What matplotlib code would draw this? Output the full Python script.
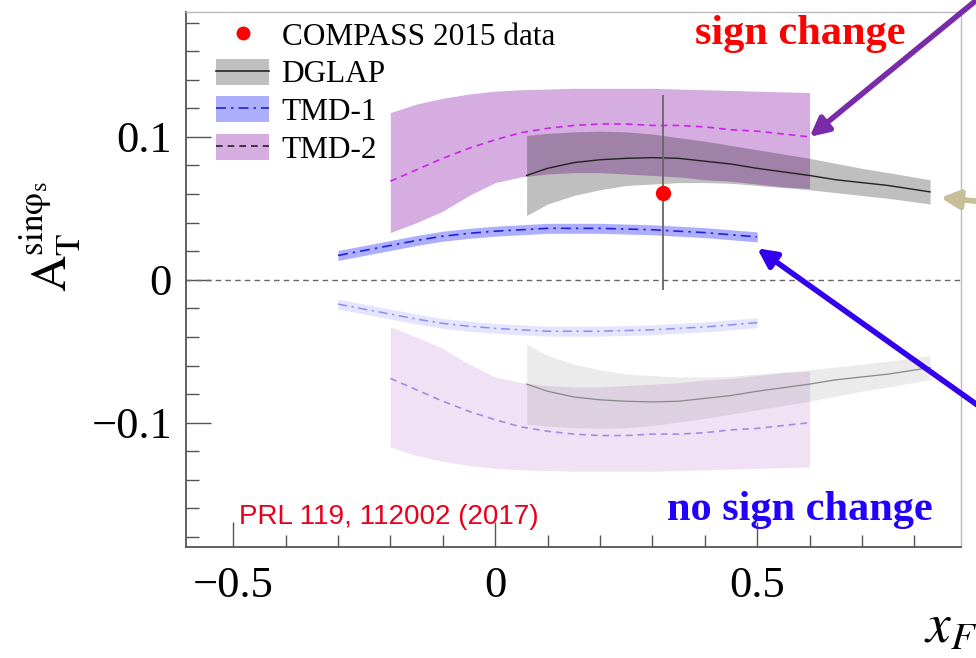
import numpy as np
import matplotlib.pyplot as plt
from matplotlib.patches import Patch
from matplotlib.lines import Line2D

plt.rcParams['mathtext.fontset'] = 'stix'
serif = ['Liberation Serif', 'DejaVu Serif']

# DGLAP curve and uncertainty band
dglap_x = [0.06, 0.1, 0.15, 0.2, 0.25, 0.3, 0.35, 0.4, 0.45, 0.5, 0.55, 0.6, 0.65, 0.7, 0.75, 0.83]
dglap_y = [0.073, 0.078, 0.082, 0.084, 0.085, 0.0855, 0.085, 0.083, 0.081, 0.078, 0.0755,
           0.073, 0.070, 0.068, 0.066, 0.0615]
dglap_hi = [0.101, 0.1025, 0.1035, 0.104, 0.1035, 0.102, 0.0995, 0.097, 0.094, 0.091, 0.088,
            0.085, 0.0815, 0.078, 0.075, 0.070]
dglap_lo = [0.045, 0.053, 0.059, 0.063, 0.066, 0.067, 0.068, 0.068, 0.0675, 0.066, 0.0645,
            0.063, 0.061, 0.059, 0.057, 0.053]

# TMD-1
tmd1_x = [-0.3, -0.25, -0.2, -0.15, -0.1, -0.05, 0.0, 0.05, 0.1, 0.15, 0.2, 0.25, 0.3,
          0.35, 0.4, 0.45, 0.5]
tmd1_y = [0.017, 0.0205, 0.024, 0.0275, 0.0305, 0.0325, 0.034, 0.035, 0.036, 0.036, 0.036,
          0.0355, 0.035, 0.034, 0.033, 0.0315, 0.030]
tmd1_hi = [0.0205, 0.024, 0.0275, 0.031, 0.034, 0.036, 0.0375, 0.0385, 0.0395, 0.0395,
           0.0395, 0.039, 0.0385, 0.0375, 0.0365, 0.035, 0.0335]
tmd1_lo = [0.0135, 0.017, 0.0205, 0.024, 0.027, 0.029, 0.0305, 0.0315, 0.0325, 0.0325,
           0.0325, 0.032, 0.0315, 0.0305, 0.0295, 0.028, 0.0265]

# TMD-2
tmd2_x = [-0.2, -0.15, -0.1, -0.05, 0.0, 0.05, 0.1, 0.15, 0.2, 0.25, 0.3, 0.35, 0.4, 0.45,
          0.5, 0.55, 0.6]
tmd2_y = [0.069, 0.077, 0.085, 0.092, 0.098, 0.103, 0.106, 0.108, 0.109, 0.109, 0.108,
          0.108, 0.107, 0.105, 0.104, 0.102, 0.100]
tmd2_hi = [0.117, 0.123, 0.127, 0.130, 0.132, 0.133, 0.1335, 0.134, 0.134, 0.134, 0.134,
           0.1335, 0.133, 0.1325, 0.132, 0.1315, 0.131]
tmd2_lo = [0.033, 0.040, 0.048, 0.059, 0.068, 0.072, 0.074, 0.075, 0.075, 0.074, 0.073,
           0.072, 0.070, 0.069, 0.067, 0.065, 0.064]

# COMPASS 2015 point
data_x = [0.32]
data_y = [0.061]
data_err = [0.068]

fig = plt.figure(figsize=(9.76, 6.58), dpi=100)
ax = fig.add_axes([186 / 976, 1 - 547 / 658, 775 / 976, 535 / 658])

purple = (0.6, 0.2, 0.7)
blue = (0.3, 0.3, 1.0)

# positive (sign change) predictions
ax.fill_between(tmd2_x, tmd2_lo, tmd2_hi, color=purple, alpha=0.4, lw=0)
ax.fill_between(dglap_x, dglap_lo, dglap_hi, color='k', alpha=0.25, lw=0)
ax.fill_between(tmd1_x, tmd1_lo, tmd1_hi, color=blue, alpha=0.45, lw=0)
ax.plot(dglap_x, dglap_y, color='#222222', lw=1.0)
ax.plot(tmd2_x, tmd2_y, color='#cc22ee', lw=1.2, ls=(0, (4, 3)))
ax.plot(tmd1_x, tmd1_y, color='#2222dd', lw=1.2, ls=(0, (6, 3, 1.5, 3)))

# mirrored (no sign change) predictions
neg = lambda v: -np.asarray(v)
ax.fill_between(tmd2_x, neg(tmd2_lo), neg(tmd2_hi), color=purple, alpha=0.14, lw=0)
ax.fill_between(dglap_x, neg(dglap_lo), neg(dglap_hi), color='k', alpha=0.08, lw=0)
ax.fill_between(tmd1_x, neg(tmd1_lo), neg(tmd1_hi), color=blue, alpha=0.14, lw=0)
ax.plot(dglap_x, neg(dglap_y), color='#888888', lw=0.9)
ax.plot(tmd2_x, neg(tmd2_y), color='#a58be6', lw=1.2, ls=(0, (4, 3)))
ax.plot(tmd1_x, neg(tmd1_y), color='#8c8cf5', lw=1.1, ls=(0, (6, 3, 1.5, 3)))

ax.axhline(0, color='#666666', lw=1.0, ls=(0, (4, 3)))
ax.errorbar(data_x, data_y, yerr=data_err, fmt='o', color='red', ms=10,
            ecolor='#666666', elinewidth=1.3, capsize=0, zorder=5)

ax.set_xlim(-0.59, 0.889)
ax.set_ylim(-0.187, 0.1874)
ax.set_xticks([-0.5, 0, 0.5])
ax.set_xticklabels(['\u22120.5', '0', '0.5'])
ax.set_xticks(np.arange(-0.5, 0.85, 0.1), minor=True)
ax.set_yticks([-0.1, 0, 0.1])
ax.set_yticklabels(['\u22120.1', '0', '0.1'])
ax.set_yticks(np.arange(-0.18, 0.19, 0.02), minor=True)
ax.tick_params(which='both', direction='in', top=False, right=False,
               color='#555555', width=1.0)
ax.tick_params(which='major', length=18)
ax.tick_params(which='minor', length=9)
ax.tick_params(axis='x', which='major', pad=14)
ax.tick_params(axis='y', which='major', pad=10)
for lab in ax.get_xticklabels() + ax.get_yticklabels():
    lab.set_family(serif)
    lab.set_fontsize(32)
for side in ['left', 'bottom']:
    ax.spines[side].set_color('#555555')
    ax.spines[side].set_linewidth(1.3)
for side in ['top', 'right']:
    ax.spines[side].set_color('#bbbbbb')
    ax.spines[side].set_linewidth(1.0)

handles = [
    Line2D([], [], ls='none', marker='o', color='red', ms=9),
    (Patch(color='k', alpha=0.25, lw=0), Line2D([], [], color='#222222', lw=1.2)),
    (Patch(color=blue, alpha=0.45, lw=0), Line2D([], [], color='#2222dd', lw=1.2, ls=(0, (6, 3, 1.5, 3)))),
    (Patch(color=purple, alpha=0.4, lw=0), Line2D([], [], color='#222222', lw=1.2, ls=(0, (4, 3)))),
]
labels = ['COMPASS 2015 data', 'DGLAP', 'TMD-1', 'TMD-2']
fig.legend(handles, labels, loc='upper left', bbox_to_anchor=(216 / 976, 1 - 21 / 658),
           frameon=False, prop={'family': serif, 'size': 22.5}, borderpad=0,
           borderaxespad=0, handlelength=1.7, handleheight=0.9,
           handletextpad=0.4, labelspacing=0.22)

# axis titles
fig.text(50 / 976, 1 - 237 / 658, r'$\mathrm{A}_{\mathrm{T}}^{\mathrm{sin}\mathrm{\varphi}_{\mathrm{s}}}$',
         rotation=90, ha='center', va='center', fontsize=36)
fig.text(924 / 976, 1 - 642 / 658, r'$x_F$', ha='left', va='baseline', fontsize=40)

# annotations
fig.text(695 / 976, 1 - 44 / 658, 'sign change', color='red', fontweight='bold',
         family=serif, fontsize=30.5, ha='left', va='baseline')
fig.text(667 / 976, 1 - 520 / 658, 'no sign change', color='#2200ff', fontweight='bold',
         family=serif, fontsize=30.5, ha='left', va='baseline')
fig.text(239 / 976, 1 - 524 / 658, 'PRL 119, 112002 (2017)', color='#e8001c',
         family=['Liberation Sans', 'DejaVu Sans'], fontsize=20, ha='left', va='baseline')

arrow_kw = dict(arrowstyle='-|>', mutation_scale=28, shrinkA=0, shrinkB=0)
ax.annotate('', xy=(tmd2_x[-1], tmd2_y[-1]), xycoords='data',
            xytext=(990 / 976, 1 + 11 / 658), textcoords='figure fraction',
            arrowprops=dict(color='#7a2ca8', lw=4, **arrow_kw), annotation_clip=False)
ax.annotate('', xy=(dglap_x[-1] + 0.02, dglap_y[-1] - 0.004), xycoords='data',
            xytext=(995 / 976, 1 - 203 / 658), textcoords='figure fraction',
            arrowprops=dict(color='#c8bf98', lw=4, **arrow_kw), annotation_clip=False)
ax.annotate('', xy=(tmd1_x[-1], tmd1_y[-1] - 0.008), xycoords='data',
            xytext=(990 / 976, 1 - 414 / 658), textcoords='figure fraction',
            arrowprops=dict(color='#3300ee', lw=4, **arrow_kw), annotation_clip=False)

fig.savefig('out.png', dpi=100)
